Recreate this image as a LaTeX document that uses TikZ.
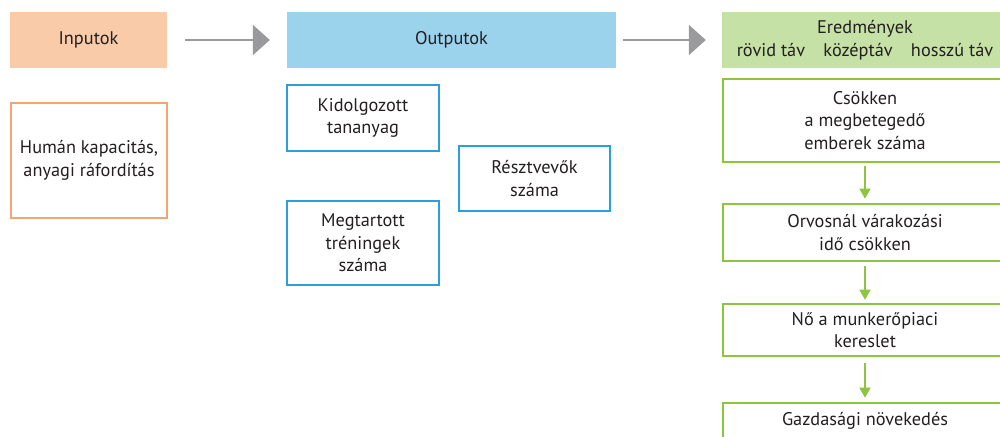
\documentclass[tikz,border=0pt]{standalone}
\usepackage{fontspec}
\setmainfont{PT Sans}
\usetikzlibrary{arrows.meta}
\definecolor{txt}{HTML}{231F20}
\definecolor{inFill}{HTML}{F9CBA9}
\definecolor{inLine}{HTML}{F7A56F}
\definecolor{outFill}{HTML}{9BD2EC}
\definecolor{outLine}{HTML}{2A9FDA}
\definecolor{resFill}{HTML}{C6E1A5}
\definecolor{resLine}{HTML}{8CC63F}
\definecolor{flowGray}{HTML}{9A9A9C}
\begin{document}
\begin{tikzpicture}[x=1pt,y=-1pt,
  every node/.style={font=\fontsize{18.3}{22.5}\selectfont, text=txt, align=center, inner sep=0pt},
  header/.style={minimum height=56pt},
  inbox/.style={draw=inLine, line width=2.6pt},
  outbox/.style={draw=outLine, line width=2.6pt},
  resbox/.style={draw=resLine, line width=2.6pt, minimum width=284pt},
  flow/.style={draw=flowGray, line width=2.6pt, -{Triangle[length=17pt,width=30pt]}},
  chain/.style={draw=resLine, line width=1.4pt, -{Triangle[length=10pt,width=11pt]}}]
\useasboundingbox (0,0) rectangle (1000,436);
\begin{scope}
\clip (0,0) rectangle (1000,436);
% column headers
\node[header, fill=inFill, minimum width=157pt] (inp) at (88.5,40) {Inputok};
\node[header, fill=outFill, minimum width=329pt] (outp) at (451.5,40) {Outputok};
\node[header, fill=resFill, minimum width=286pt] (res) at (865,40)
  {Eredmények\\rövid táv\quad középtáv\quad hosszú táv};
% inputs
\node[inbox, minimum width=156pt, minimum height=115pt] (human) at (89,160.5)
  {Humán kapacitás,\\anyagi ráfordítás};
% outputs
\node[outbox, minimum width=152pt, minimum height=66pt] (kid) at (363,118)
  {Kidolgozott\\tananyag};
\node[outbox, minimum width=151pt, minimum height=65pt] (resz) at (534.5,178.5)
  {Résztvevők\\száma};
\node[outbox, minimum width=152pt, minimum height=84pt] (meg) at (363,243)
  {Megtartott\\tréningek\\száma};
% results
\node[resbox, minimum height=83pt] (r1) at (865,120.5)
  {Csökken\\a megbetegedő\\emberek száma};
\node[resbox, minimum height=57pt] (r2) at (865,232.5)
  {Orvosnál várakozási\\idő csökken};
\node[resbox, minimum height=52pt] (r3) at (865,330)
  {Nő a munkerőpiaci\\kereslet};
\node[resbox, minimum height=36pt] (r4) at (865,421)
  {Gazdasági növekedés};
% connectors
\draw[flow, shorten <=18pt, shorten >=17pt] (inp) -- (outp);
\draw[flow, shorten <=7pt, shorten >=16pt] (outp) -- (res);
\draw[chain, shorten <=3pt, shorten >=4pt] (r1) -- (r2);
\draw[chain, shorten <=4pt, shorten >=3pt] (r2) -- (r3);
\draw[chain, shorten <=6pt, shorten >=4pt] (r3) -- (r4);
\end{scope}
\end{tikzpicture}
\end{document}
